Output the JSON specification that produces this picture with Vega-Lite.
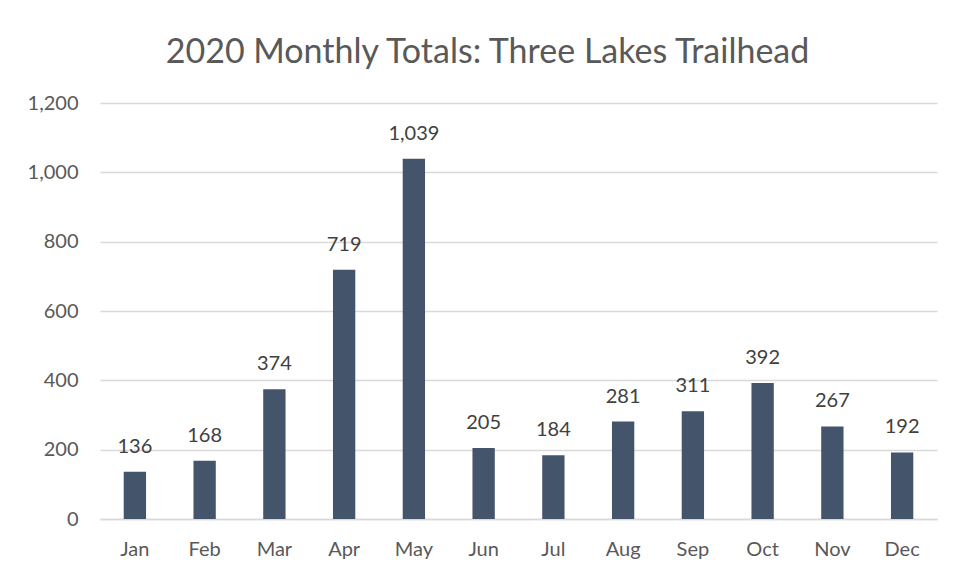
{
  "$schema": "https://vega.github.io/schema/vega-lite/v6.json",
  "autosize": "none",
  "width": 837,
  "height": 416,
  "padding": {"left": 100, "top": 103, "right": 20, "bottom": 59},
  "background": "white",
  "title": {
    "text": "2020 Monthly Totals: Three Lakes Trailhead",
    "font": "Lato",
    "fontSize": 34,
    "fontWeight": "normal",
    "color": "#595959",
    "anchor": "middle",
    "dx": -31,
    "offset": 23
  },
  "config": {
    "view": {"stroke": null},
    "font": "Lato"
  },
  "data": {
    "values": [
      {"month": "Jan", "total": 136},
      {"month": "Feb", "total": 168},
      {"month": "Mar", "total": 374},
      {"month": "Apr", "total": 719},
      {"month": "May", "total": 1039},
      {"month": "Jun", "total": 205},
      {"month": "Jul", "total": 184},
      {"month": "Aug", "total": 281},
      {"month": "Sep", "total": 311},
      {"month": "Oct", "total": 392},
      {"month": "Nov", "total": 267},
      {"month": "Dec", "total": 192}
    ]
  },
  "encoding": {
    "x": {
      "field": "month",
      "type": "nominal",
      "sort": null,
      "scale": {"paddingInner": 0.68, "paddingOuter": 0.34},
      "axis": {
        "title": null,
        "labelAngle": 0,
        "labelFont": "Lato",
        "labelFontSize": 20,
        "labelColor": "#595959",
        "labelPadding": 20,
        "ticks": false,
        "domainColor": "#D9D9D9",
        "domainWidth": 1.5
      }
    },
    "y": {
      "field": "total",
      "type": "quantitative",
      "scale": {"domain": [0, 1200]},
      "axis": {
        "title": null,
        "values": [0, 200, 400, 600, 800, 1000, 1200],
        "format": ",d",
        "labelFont": "Lato",
        "labelFontSize": 20,
        "labelColor": "#595959",
        "labelPadding": 22,
        "ticks": false,
        "domain": false,
        "gridColor": "#D9D9D9",
        "gridWidth": 1.5
      }
    }
  },
  "layer": [
    {"mark": {"type": "bar", "color": "#44546A"}},
    {
      "mark": {"type": "text", "baseline": "bottom", "dy": -15, "fontSize": 20, "color": "#404040", "font": "Lato"},
      "encoding": {"text": {"field": "total", "type": "quantitative", "format": ",d"}}
    }
  ]
}
